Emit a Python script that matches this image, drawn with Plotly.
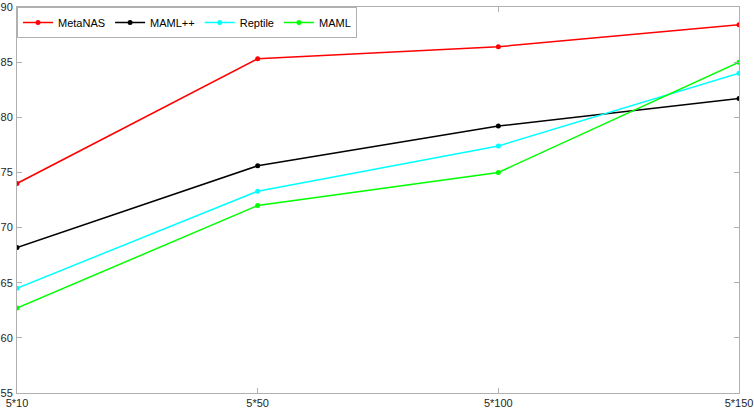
import plotly.graph_objects as go

categories = ["5*10", "5*50", "5*100", "5*150"]
metanas = [74.0, 85.3, 86.4, 88.4]
mamlpp = [68.2, 75.6, 79.2, 81.7]
reptile = [64.5, 73.3, 77.4, 84.0]
maml = [62.7, 72.0, 75.0, 85.0]
y_ticks = [55, 60, 65, 70, 75, 80, 85, 90]

series = [("MetaNAS", metanas, "#ff0000"), ("MAML++", mamlpp, "#000000"),
          ("Reptile", reptile, "#00ffff"), ("MAML", maml, "#00ff00")]

fig = go.Figure()
for name, vals, col in series:
    fig.add_trace(go.Scatter(x=list(range(len(categories))), y=vals, name=name,
                             mode="lines+markers",
                             line=dict(color=col, width=1.5),
                             marker=dict(size=5, color=col, symbol="circle")))

axcol = "#b0b0b0"
fig.update_layout(
    width=754, height=410,
    margin=dict(l=17, r=15, t=7, b=17),
    plot_bgcolor="white", paper_bgcolor="white",
    font=dict(family="Liberation Sans, Arial, sans-serif", size=11, color="#262626"),
    showlegend=True,
    legend=dict(orientation="h", x=0, y=1, xanchor="left", yanchor="top",
                bgcolor="white", bordercolor=axcol, borderwidth=1,
                font=dict(size=11, color="#000000"),
                itemwidth=30, tracegroupgap=0),
    xaxis=dict(range=[0, 3], tickmode="array", tickvals=list(range(len(categories))),
               ticktext=categories, showgrid=False, zeroline=False, automargin=False,
               showline=True, linecolor=axcol, linewidth=1, mirror="ticks",
               ticks="inside", ticklen=5, tickcolor=axcol, ticklabelstandoff=0,
               ticklabeloverflow="allow"),
    yaxis=dict(range=[55, 90], tickmode="array", tickvals=y_ticks,
               showgrid=False, zeroline=False, automargin=False,
               showline=True, linecolor=axcol, linewidth=1, mirror="ticks",
               ticks="inside", ticklen=5, tickcolor=axcol, ticklabelstandoff=1,
               ticklabeloverflow="allow"),
)
fig.write_html("out.html", config={"displayModeBar": False},
               post_script="document.body.style.margin='0';document.body.style.overflow='hidden';")
